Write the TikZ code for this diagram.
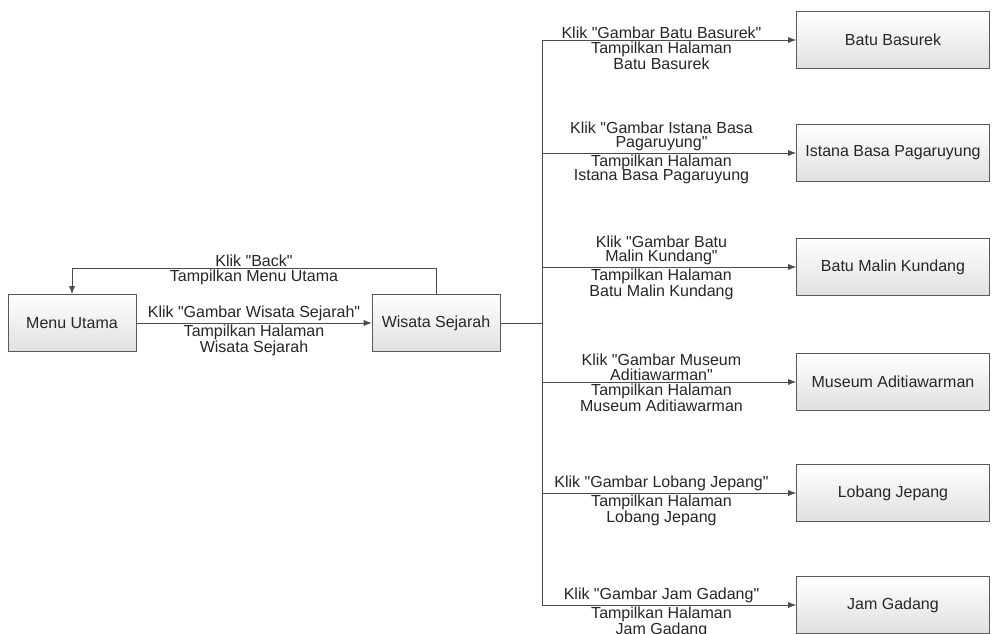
\documentclass[tikz,border=0pt]{standalone}
\usepackage{fontspec}
\newfontfamily\diafont{Liberation Sans}
\usetikzlibrary{positioning}
\usetikzlibrary{arrows.meta}

\tikzset{
  txt/.style={font=\diafont\fontsize{12}{11}\selectfont, text=black!85},
  page/.style={txt, draw=black!65, top color=white, bottom color=black!12,
    minimum width=96pt, minimum height=42.75pt, inner sep=2pt},
  wide/.style={page, minimum width=144.75pt},
  link/.style={draw=black!70, line width=0.6pt, -{Latex[length=6pt,width=4.5pt]}},
  lblup/.style={txt, above, inner sep=1pt, align=center},
  lbldn/.style={txt, below, inner sep=1pt, align=center}
}

\begin{document}
\begin{tikzpicture}[x=0.75pt, y=-0.75pt]
	\useasboundingbox (0,0) rectangle (992,634);

	\node[page] (menu) at (72,323) {Menu Utama};
	\node[page] (wis) at (436,323) {Wisata Sejarah};

	\node[wide] (basurek) at (893,40) {Batu Basurek};
	\node[wide] (istana) at (893,153) {Istana Basa Pagaruyung};
	\node[wide] (malin) at (893,267) {Batu Malin Kundang};
	\node[wide] (museum) at (893,382) {Museum Aditiawarman};
	\node[wide] (lobang) at (893,493) {Lobang Jepang};
	\node[wide] (jam) at (893,605) {Jam Gadang};

	\coordinate (split) at (542,323);
	\coordinate (backy) at (0,268);

	% menu utama <-> wisata sejarah
	\path[link] (menu) -- node[lblup]{Klik "Gambar Wisata Sejarah"}
		node[lbldn]{Tampilkan Halaman\\Wisata Sejarah} (wis);
	\path[link] (wis.north) -- (wis.north |- backy) -| node[lblup,pos=.25]{Klik "Back"}
		node[lbldn,pos=.25]{Tampilkan Menu Utama} (menu.north);

	% bus
	\draw[black!70, line width=0.6pt] (wis.east) -- (split);
	\draw[black!70, line width=0.6pt] (split |- basurek) -- (split |- jam);

	\path[link] (split |- basurek) -- node[lblup,pos=.47]{Klik "Gambar Batu Basurek"}
		node[lbldn,pos=.47]{Tampilkan Halaman\\Batu Basurek} (basurek);
	\path[link] (split |- istana) -- node[lblup,pos=.47]{Klik "Gambar Istana Basa\\Pagaruyung"}
		node[lbldn,pos=.47]{Tampilkan Halaman\\Istana Basa Pagaruyung} (istana);
	\path[link] (split |- malin) -- node[lblup,pos=.47]{Klik "Gambar Batu\\Malin Kundang"}
		node[lbldn,pos=.47]{Tampilkan Halaman\\Batu Malin Kundang} (malin);
	\path[link] (split |- museum) -- node[lblup,pos=.47]{Klik "Gambar Museum\\Aditiawarman"}
		node[lbldn,pos=.47]{Tampilkan Halaman\\Museum Aditiawarman} (museum);
	\path[link] (split |- lobang) -- node[lblup,pos=.47]{Klik "Gambar Lobang Jepang"}
		node[lbldn,pos=.47]{Tampilkan Halaman\\Lobang Jepang} (lobang);
	\path[link] (split |- jam) -- node[lblup,pos=.47]{Klik "Gambar Jam Gadang"}
		node[lbldn,pos=.47]{Tampilkan Halaman\\Jam Gadang} (jam);
\end{tikzpicture}
\end{document}
